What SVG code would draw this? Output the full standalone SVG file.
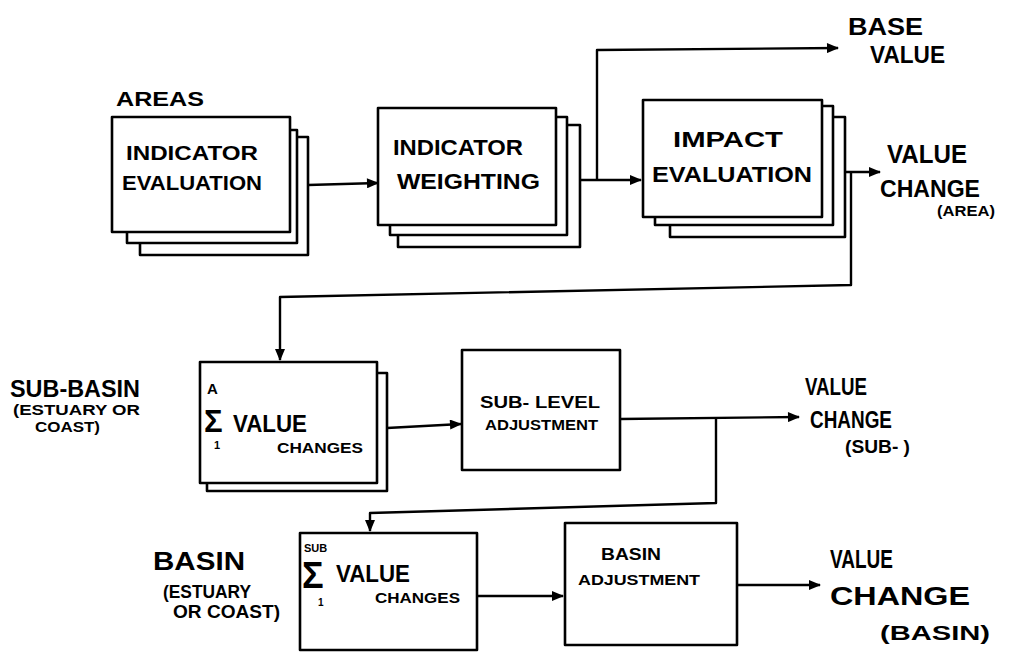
<svg xmlns="http://www.w3.org/2000/svg" width="1010" height="655" viewBox="0 0 1010 655">
<defs>
<marker id="ah" viewBox="0 0 12 10" refX="11" refY="5" markerWidth="13" markerHeight="10" markerUnits="userSpaceOnUse" orient="auto">
<path d="M0,0 L12,5 L0,10 Z" fill="#000"/>
</marker>
</defs>
<style>
.bx{fill:#fff;stroke:#000;stroke-width:2.6;stroke-linejoin:round}
.cn{fill:none;stroke:#000;stroke-width:2.4;stroke-linejoin:round}
.ca{marker-end:url(#ah)}
text{font-family:"Liberation Sans","DejaVu Sans",sans-serif;font-weight:bold;fill:#000}
</style>
<rect width="1010" height="655" fill="#fff"/>

<g id="connectors">
<path class="cn ca" d="M308,185 L378,183"/>
<path class="cn ca" d="M580,180 L641,180"/>
<path class="cn ca" d="M597,180 L597,50 L838,48"/>
<path class="cn ca" d="M845,172 L880,172"/>
<path class="cn ca" d="M851,172 L851,285 L280,297 L280,360"/>
<path class="cn ca" d="M387,428 L461,424"/>
<path class="cn ca" d="M620,419 L799,417"/>
<path class="cn ca" d="M716,419 L716,503 L370,513 L370,531"/>
<path class="cn ca" d="M477,596 L563,596"/>
<path class="cn ca" d="M737,585 L820,585"/>
</g>

<g id="label-areas"><text x="116" y="106" font-size="20" textLength="88" lengthAdjust="spacingAndGlyphs">AREAS</text></g>

<g id="indicator-evaluation">
<rect class="bx" x="140" y="137" width="168" height="118"/>
<rect class="bx" x="127" y="130" width="170" height="113"/>
<rect class="bx" x="112" y="117" width="178" height="115"/>
<text x="126" y="160" font-size="21" textLength="132" lengthAdjust="spacingAndGlyphs">INDICATOR</text>
<text x="122" y="190" font-size="21" textLength="140" lengthAdjust="spacingAndGlyphs">EVALUATION</text>
</g>

<g id="indicator-weighting">
<rect class="bx" x="398" y="125" width="182" height="122"/>
<rect class="bx" x="390" y="117" width="177" height="118"/>
<rect class="bx" x="378" y="108" width="178" height="117"/>
<text x="393" y="155" font-size="22" textLength="130" lengthAdjust="spacingAndGlyphs">INDICATOR</text>
<text x="397" y="189" font-size="22" textLength="143" lengthAdjust="spacingAndGlyphs">WEIGHTING</text>
</g>

<g id="base-value">
<text x="848" y="35" font-size="24" textLength="75" lengthAdjust="spacingAndGlyphs">BASE</text>
<text x="870" y="63" font-size="24" textLength="75" lengthAdjust="spacingAndGlyphs">VALUE</text>
</g>

<g id="impact-evaluation">
<rect class="bx" x="670" y="117" width="175" height="120"/>
<rect class="bx" x="655" y="106" width="178" height="119"/>
<rect class="bx" x="643" y="100" width="179" height="117"/>
<text x="673" y="147" font-size="22" textLength="110" lengthAdjust="spacingAndGlyphs">IMPACT</text>
<text x="652" y="182" font-size="22" textLength="160" lengthAdjust="spacingAndGlyphs">EVALUATION</text>
</g>

<g id="value-change-area">
<text x="887" y="163" font-size="26" textLength="80" lengthAdjust="spacingAndGlyphs">VALUE</text>
<text x="880" y="197" font-size="24" textLength="100" lengthAdjust="spacingAndGlyphs">CHANGE</text>
<text x="937" y="216" font-size="15" textLength="58" lengthAdjust="spacingAndGlyphs">(AREA)</text>
</g>

<g id="label-sub-basin">
<text x="10" y="397" font-size="24" textLength="130" lengthAdjust="spacingAndGlyphs">SUB-BASIN</text>
<text x="13" y="415" font-size="15" textLength="127" lengthAdjust="spacingAndGlyphs">(ESTUARY OR</text>
<text x="35" y="432" font-size="15" textLength="65" lengthAdjust="spacingAndGlyphs">COAST)</text>
</g>

<g id="sum-value-changes-sub">
<rect class="bx" x="207" y="373" width="180" height="118"/>
<rect class="bx" x="200" y="362" width="177" height="121"/>
<text x="207" y="394" font-size="15">A</text>
<text x="204" y="432" font-size="31">Σ</text>
<text x="214" y="449" font-size="11">1</text>
<text x="233" y="432" font-size="24" textLength="74" lengthAdjust="spacingAndGlyphs">VALUE</text>
<text x="277" y="453" font-size="15" textLength="86" lengthAdjust="spacingAndGlyphs">CHANGES</text>
</g>

<g id="sub-level-adjustment">
<rect class="bx" x="462" y="350" width="158" height="120"/>
<text x="480" y="408" font-size="16" textLength="120" lengthAdjust="spacingAndGlyphs">SUB- LEVEL</text>
<text x="485" y="430" font-size="14" textLength="113" lengthAdjust="spacingAndGlyphs">ADJUSTMENT</text>
</g>

<g id="value-change-sub">
<text x="805" y="395" font-size="24" textLength="62" lengthAdjust="spacingAndGlyphs">VALUE</text>
<text x="810" y="428" font-size="24" textLength="82" lengthAdjust="spacingAndGlyphs">CHANGE</text>
<text x="845" y="453" font-size="18" textLength="65" lengthAdjust="spacingAndGlyphs">(SUB- )</text>
</g>

<g id="label-basin">
<text x="153" y="570" font-size="26" textLength="92" lengthAdjust="spacingAndGlyphs">BASIN</text>
<text x="163" y="598" font-size="18" textLength="88" lengthAdjust="spacingAndGlyphs">(ESTUARY</text>
<text x="173" y="618" font-size="18" textLength="107" lengthAdjust="spacingAndGlyphs">OR COAST)</text>
</g>

<g id="sum-value-changes-basin">
<rect class="bx" x="300" y="533" width="177" height="117"/>
<text x="304" y="552" font-size="11">SUB</text>
<text x="302" y="588" font-size="36">Σ</text>
<text x="318" y="606" font-size="10">1</text>
<text x="336" y="582" font-size="23" textLength="74" lengthAdjust="spacingAndGlyphs">VALUE</text>
<text x="375" y="603" font-size="15" textLength="85" lengthAdjust="spacingAndGlyphs">CHANGES</text>
</g>

<g id="basin-adjustment">
<rect class="bx" x="565" y="523" width="172" height="122"/>
<text x="601" y="560" font-size="17" textLength="60" lengthAdjust="spacingAndGlyphs">BASIN</text>
<text x="578" y="585" font-size="15" textLength="122" lengthAdjust="spacingAndGlyphs">ADJUSTMENT</text>
</g>

<g id="value-change-basin">
<text x="830" y="568" font-size="26" textLength="63" lengthAdjust="spacingAndGlyphs">VALUE</text>
<text x="830" y="605" font-size="26" textLength="140" lengthAdjust="spacingAndGlyphs">CHANGE</text>
<text x="880" y="640" font-size="20" textLength="110" lengthAdjust="spacingAndGlyphs">(BASIN)</text>
</g>
</svg>
